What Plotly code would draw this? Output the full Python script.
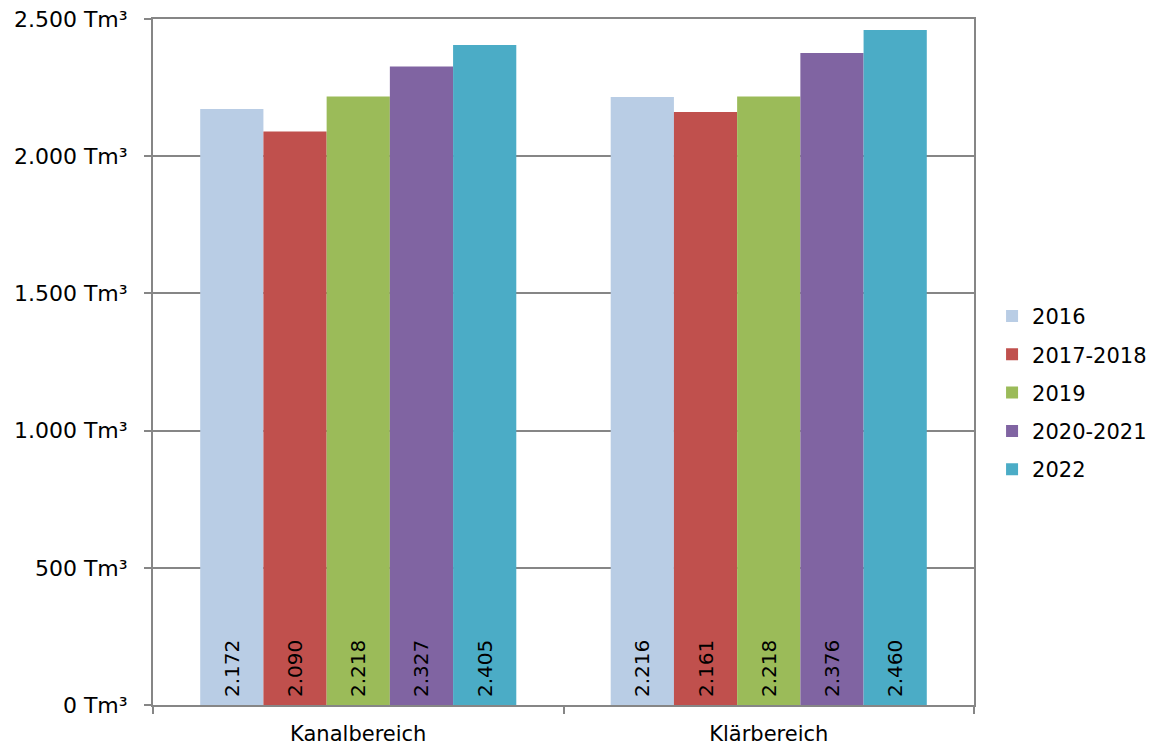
import plotly.graph_objects as go

categories = ["Kanalbereich", "Klärbereich"]
series_names = ["2016", "2017-2018", "2019", "2020-2021", "2022"]
values_2016 = [2172, 2216]
values_2017_2018 = [2090, 2161]
values_2019 = [2218, 2218]
values_2020_2021 = [2327, 2376]
values_2022 = [2405, 2460]
series_values = [values_2016, values_2017_2018, values_2019, values_2020_2021, values_2022]
colors = ["#B9CDE5", "#C0504D", "#9BBB59", "#8064A2", "#4BACC6"]

FONT = "DejaVu Sans"
GRID = "#868686"

fig = go.Figure()
for name, vals, col in zip(series_names, series_values, colors):
    fig.add_trace(go.Bar(
        x=categories, y=vals, name=name,
        marker=dict(color=col, line=dict(width=0)),
        texttemplate="\u2005%{y:,.0f}",
        textposition="inside",
        insidetextanchor="start",
        textangle=-90,
        textfont=dict(family=FONT, size=20, color="black"),
        legendgroup=name,
        hoverinfo="skip",
    ))

fig.update_layout(
    width=1155, height=737,
    margin=dict(l=145, r=189, t=11, b=40, autoexpand=False),
    barmode="group",
    bargap=0.23,
    bargroupgap=0,
    separators=",.",
    plot_bgcolor="white",
    paper_bgcolor="white",
    font=dict(family=FONT, size=22, color="black"),
    legend=dict(
        xref="container", x=0.852, y=0.455, xanchor="left", yanchor="middle",
        font=dict(family=FONT, size=21, color="black"),
        traceorder="grouped", tracegroupgap=8,
        bgcolor="rgba(0,0,0,0)",
    ),
    showlegend=True,
)
fig.update_yaxes(
    range=[0, 2500], dtick=500, tick0=0,
    tickformat=",.0f", ticksuffix=" Tm³",
    showgrid=True, gridcolor=GRID, gridwidth=1.5,
    showline=True, linecolor=GRID, linewidth=2, mirror=True,
    ticks="outside", ticklen=7, tickcolor=GRID, tickwidth=2,
    ticklabelstandoff=12, ticklabeloverflow="allow",
    zeroline=False, automargin=False,
    tickfont=dict(family=FONT, size=22, color="black"),
)
fig.update_xaxes(
    type="category",
    showline=True, linecolor=GRID, linewidth=2, mirror=True,
    ticks="outside", ticklen=7, tickcolor=GRID, tickwidth=2,
    tickson="boundaries",
    ticklabelstandoff=9, ticklabeloverflow="allow",
    showgrid=False, automargin=False,
    tickfont=dict(family=FONT, size=21, color="black"),
)

fig.write_html("out.html")
